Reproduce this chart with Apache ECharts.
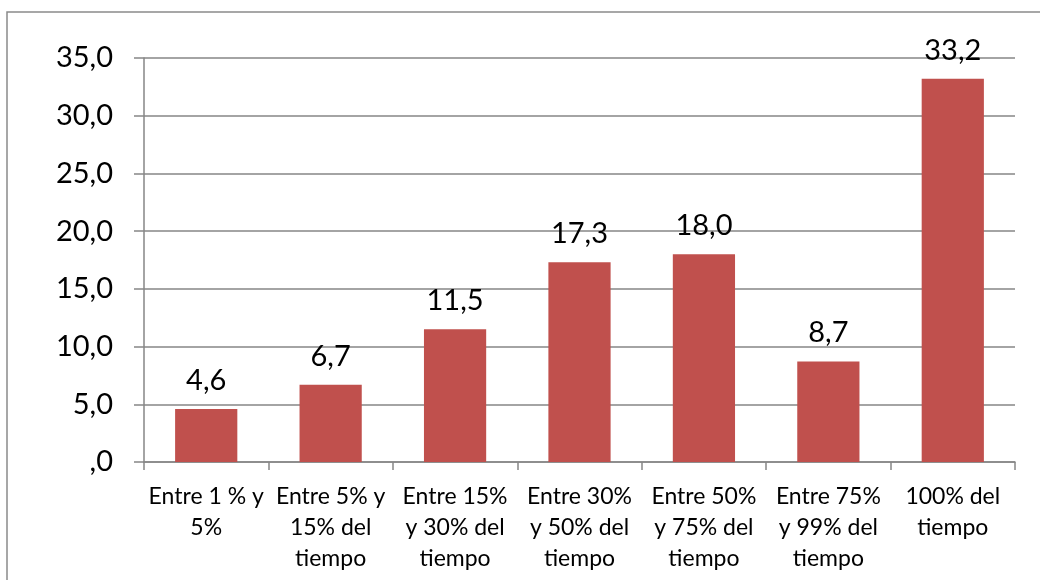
<!DOCTYPE html>
<html>
<head>
<meta charset="utf-8">
<script src="https://cdn.jsdelivr.net/npm/echarts@6/dist/echarts.min.js"></script>
<style>
  html, body { margin: 0; padding: 0; background: #fff; }
  #chart { width: 1040px; height: 580px; }
</style>
</head>
<body>
<div id="chart"></div>
<script>
const categories = [
  'Entre 1 % y\n5%',
  'Entre 5% y\n15% del\ntiempo',
  'Entre 15%\ny 30% del\ntiempo',
  'Entre 30%\ny 50% del\ntiempo',
  'Entre 50%\ny 75% del\ntiempo',
  'Entre 75%\ny 99% del\ntiempo',
  '100% del\ntiempo',
];
const values = [4.6, 6.7, 11.5, 17.3, 18.0, 8.7, 33.2];

const fmt = (v) => (v === 0 ? ',0' : v.toFixed(1).replace('.', ','));

const chart = echarts.init(document.getElementById('chart'));
const option = {
  animation: false,
  textStyle: { fontFamily: 'Lato' },
  graphic: [
    {
      type: 'rect',
      shape: { x: 7, y: 12, width: 1100, height: 700 },
      style: { fill: 'none', stroke: '#8a8a8a', lineWidth: 1.5 },
      silent: true,
    },
  ],
  grid: { left: 144, right: 25, top: 58, bottom: 118 },
  xAxis: {
    type: 'category',
    data: categories,
    axisLine: { lineStyle: { color: '#868686', width: 1.5 } },
    axisTick: { show: true, length: 8, lineStyle: { color: '#868686', width: 1.5 } },
    axisLabel: {
      color: '#000',
      fontSize: 23,
      lineHeight: 31,
      margin: 19,
      interval: 0,
      align: 'center',
    },
  },
  yAxis: {
    type: 'value',
    min: 0,
    max: 35,
    interval: 5,
    axisLine: { show: true, lineStyle: { color: '#868686', width: 1.5 } },
    axisTick: { show: true, length: 10, inside: false, lineStyle: { color: '#868686', width: 1.5 } },
    splitLine: { lineStyle: { color: '#868686', width: 1.5 } },
    axisLabel: { color: '#000', fontSize: 29, margin: 31, formatter: fmt },
  },
  series: [
    {
      type: 'bar',
      data: values,
      barWidth: '50%',
      itemStyle: { color: '#C0504D' },
      label: {
        show: true,
        position: 'top',
        distance: 14,
        color: '#000',
        fontSize: 29,
        formatter: (p) => fmt(p.value),
      },
    },
  ],
};
chart.setOption(option);
</script>
</body>
</html>
